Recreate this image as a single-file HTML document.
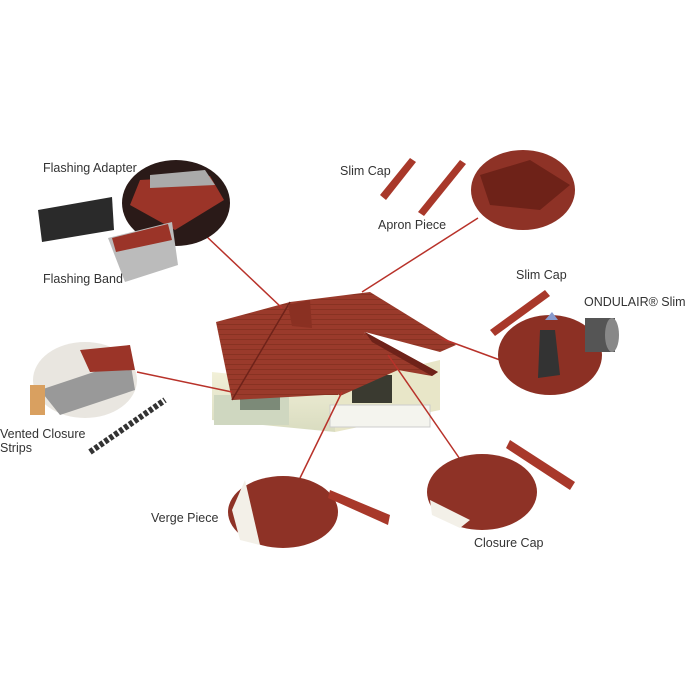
<!DOCTYPE html>
<html><head><meta charset="utf-8"><style>
html,body{margin:0;padding:0;background:#fff;}
body{width:700px;height:700px;position:relative;overflow:hidden;font-family:"Liberation Sans",sans-serif;}
.t{position:absolute;font-size:12.5px;color:#333;white-space:nowrap;}
svg{position:absolute;left:0;top:0;}
</style></head><body>
<svg width="700" height="700" viewBox="0 0 700 700">
<defs>
<linearGradient id="wall" x1="0" y1="0" x2="0" y2="1"><stop offset="0" stop-color="#f2f0d8"/><stop offset="1" stop-color="#d9dcc0"/></linearGradient>
<pattern id="tiles" width="6" height="5" patternUnits="userSpaceOnUse"><rect width="6" height="5" fill="#9a3a2b"/><path d="M0 4.5 H6" stroke="#84301f" stroke-width="0.8"/></pattern>
</defs>
<!-- house walls -->
<polygon points="212,372 335,385 335,432 212,420" fill="url(#wall)"/>
<polygon points="335,385 440,360 440,410 335,432" fill="#e8e6c8"/>
<rect x="214" y="395" width="75" height="30" fill="#cfd7c0"/>
<rect x="240" y="385" width="40" height="25" fill="#7c8a78"/>
<rect x="330" y="405" width="100" height="22" fill="#f4f4ee" stroke="#ccc"/>
<rect x="352" y="375" width="40" height="28" fill="#3a3a30"/>
<!-- roof -->
<polygon points="216,322 290,302 370,292 456,345 440,352 365,332 338,395 325,395 232,400" fill="url(#tiles)"/>
<path d="M232,400 L290,302" stroke="#6e2219" stroke-width="1.5" fill="none"/>
<polygon points="365,332 438,372 432,376 398,370 340,396 336,392" fill="url(#tiles)"/>
<polygon points="365,332 438,372 432,376 372,342" fill="#6e2219"/>
<polygon points="288,305 310,300 312,328 292,326" fill="#8a3022"/>
<!-- connector lines -->
<g stroke="#b8322a" stroke-width="1.5" fill="none">
<line x1="205" y1="235" x2="282" y2="308"/>
<line x1="478" y1="218" x2="362" y2="292"/>
<line x1="500" y1="360" x2="440" y2="338"/>
<line x1="137" y1="372" x2="232" y2="392"/>
<line x1="300" y1="478" x2="342" y2="392"/>
<line x1="462" y1="462" x2="388" y2="355"/>
</g>
<!-- circles -->
<g>
<ellipse cx="176" cy="203" rx="54" ry="43" fill="#2a1a18"/>
<path d="M140 180 L210 176 L224 200 L175 230 L130 205Z" fill="#9b3428"/>
<path d="M150 175 L205 170 L215 185 L150 188Z" fill="#aaa"/>
<ellipse cx="523" cy="190" rx="52" ry="40" fill="#8e3226"/>
<path d="M480 175 L530 160 L570 185 L540 210 L490 205Z" fill="#6e2218"/>
<ellipse cx="550" cy="355" rx="52" ry="40" fill="#8c3024"/>
<path d="M540 330 L555 330 L560 375 L538 378Z" fill="#333"/>
<path d="M545 320 L552 312 L558 320Z" fill="#8899cc"/>
<ellipse cx="85" cy="380" rx="52" ry="38" fill="#e9e6e0"/>
<path d="M40 390 L130 360 L135 390 L60 415Z" fill="#999"/>
<path d="M80 350 L130 345 L135 370 L90 372Z" fill="#9b3428"/>
<rect x="30" y="385" width="15" height="30" fill="#d9a060"/>
<ellipse cx="283" cy="512" rx="55" ry="36" fill="#8e3226"/>
<path d="M232 510 L245 480 L260 545 L240 540Z" fill="#f3f0e8"/>
<ellipse cx="482" cy="492" rx="55" ry="38" fill="#8e3226"/>
<path d="M430 500 L470 520 L460 528 L432 515Z" fill="#f3f0e8"/>
</g>
<!-- loose pieces -->
<g fill="#a8382a">
<polygon points="380,195 410,158 416,162 386,200"/>
<polygon points="418,212 460,160 466,164 424,216"/>
<polygon points="490,330 545,290 550,296 495,336"/>
<polygon points="510,440 575,482 570,490 506,448"/>
<polygon points="330,490 390,515 388,525 328,498"/>
<polygon points="108,238 172,222 178,265 125,282" fill="#bbb"/>
<polygon points="112,238 168,224 172,240 116,252" fill="#9b3428"/>
</g>
<polygon points="38,210 112,197 114,230 42,242" fill="#2a2a2a"/>
<path d="M90 452 L165 400" stroke="#333" stroke-width="6" stroke-dasharray="4 2"/>
<rect x="585" y="318" width="30" height="34" fill="#555"/>
<ellipse cx="612" cy="335" rx="7" ry="17" fill="#888"/>
</svg>
<div class="t" style="left:43px;top:161px;">Flashing Adapter</div>
<div class="t" style="left:43px;top:272px;">Flashing Band</div>
<div class="t" style="left:340px;top:164px;">Slim Cap</div>
<div class="t" style="left:378px;top:218px;">Apron Piece</div>
<div class="t" style="left:516px;top:268px;">Slim Cap</div>
<div class="t" style="left:584px;top:295px;">ONDULAIR® Slim</div>
<div class="t" style="left:0px;top:427px;line-height:14px;">Vented Closure<br>Strips</div>
<div class="t" style="left:151px;top:511px;">Verge Piece</div>
<div class="t" style="left:474px;top:536px;">Closure Cap</div>
</body></html>
